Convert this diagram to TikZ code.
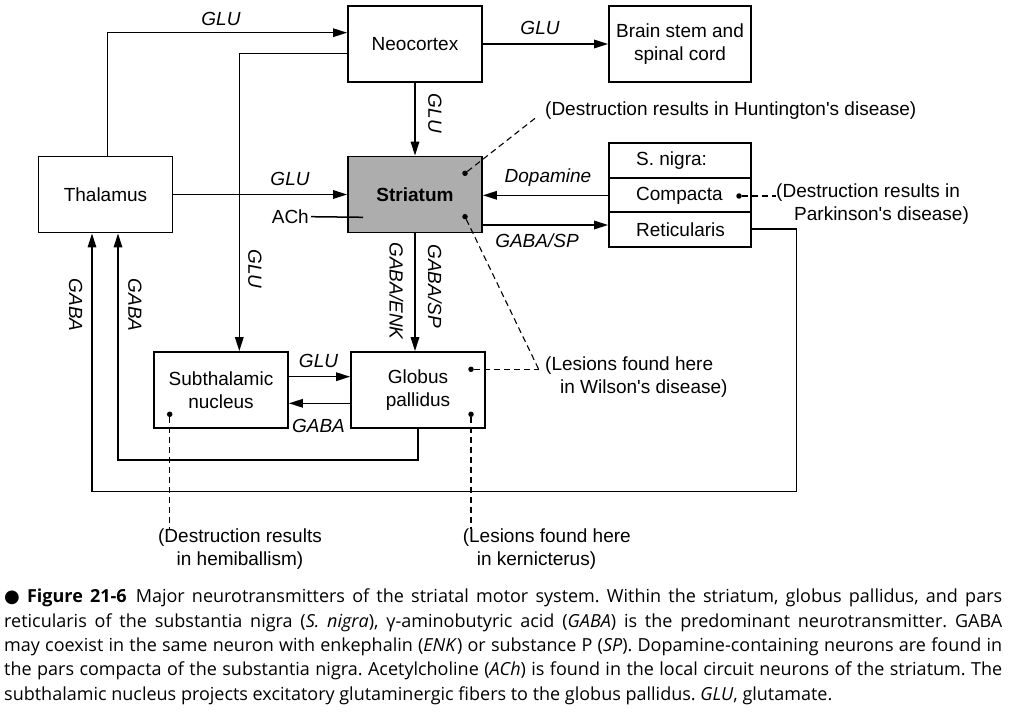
\documentclass[tikz,border=0pt]{standalone}
\usepackage{fontspec}
\setmainfont{Liberation Sans}
\newfontfamily\capfont{Open Sans}
\newfontfamily\symfont{DejaVu Sans}
\usetikzlibrary{arrows.meta,calc}
\tikzset{
  box/.style={draw, line width=1.8pt, inner sep=0pt, minimum width=134pt, minimum height=76pt, align=center},
  arr/.style={line width=1.5pt, -{Triangle[length=14pt,width=8.5pt]}},
  ln/.style={line width=1.5pt},
  lab/.style={font=\fontsize{19}{22}\selectfont\itshape, inner sep=1pt},
  txt/.style={font=\fontsize{19}{22.5}\selectfont, inner sep=0pt},
  dsh/.style={line width=1.1pt, dash pattern=on 6pt off 4pt},
  dotn/.style={circle, fill=black, inner sep=0pt, minimum size=5.5pt},
}
\begin{document}
\begin{tikzpicture}[x=1pt,y=-1pt]
\useasboundingbox (0,0) rectangle (1010,714);
\fill[white] (0,0) rectangle (1010,714);
\begin{scope}[font=\fontsize{19}{22.5}\selectfont]
% boxes
\node[box] (neo) at (415,44) {Neocortex};
\node[box] (thal) at (105.5,194.5) {Thalamus};
\node[box, fill=black!32] (str) at (415,194.5) {\bfseries Striatum};
\node[box, minimum width=142pt] (brain) at (680,44) {Brain stem and\\spinal cord};
\node[box, minimum width=142pt, minimum height=35pt] (sn1) at (680,160.8) {};
\node[box, minimum width=142pt, minimum height=34pt] (sn2) at (680,195.3) {};
\node[box, minimum width=142pt, minimum height=34.4pt] (sn3) at (680,229.5) {};
\node[txt, anchor=west] (sn1t) at (636,161) {S. nigra:};
\node[txt, anchor=west] (sn2t) at (636,195.5) {Compacta};
\node[txt, anchor=west] (sn3t) at (636,229.5) {Reticularis};
\node[box] (sub) at (221,390) {Subthalamic\\nucleus};
\node[box] (glob) at (418,390) {Globus\\pallidus};

% coordinates for bends
\coordinate (tn) at (107.7,32.7);
\coordinate (ns) at (239.3,53.3);
\coordinate (l1) at (118,460);
\coordinate (r0) at (796.5,229);
\coordinate (r1) at (796.5,491.7);
\coordinate (l2) at (92,491.7);
\coordinate (achend) at (363,217.3);
\coordinate (sp) at (0,225);

% connectors
\draw[arr] (thal.north -| tn) |- (neo.west |- tn);
\draw[arr] (neo.east) -- (brain.west);
\draw[arr] (neo.south) -- (str.north);
\draw[arr] (neo.west |- ns) -| (ns |- sub.north);
\draw[arr] (thal.east) -- (str.west);
\draw[arr] (sn2.west) -- (str.east |- sn2.west);
\draw[arr] (str.east |- sp) -- (sn3.west |- sp);
\draw[arr] (str.south) -- (str.south |- glob.north);
\draw[arr] ([yshift=13.3pt]sub.east) -- ([yshift=13.3pt]glob.west);
\draw[arr] ([yshift=-13.3pt]glob.west) -- ([yshift=-13.3pt]sub.east);
\draw[arr] (glob.south) |- (l1) -- (l1 |- thal.south);
\draw[arr] (sn3.east |- r0) -- (r0) -- (r1) -- (l2) -- (l2 |- thal.south);
\node[txt, anchor=east] (ach) at (309,216.7) {ACh};
\draw[ln] ([xshift=2pt]ach.east) -- (achend);

% connector labels
\node[lab] (g1) at (221,19) {GLU};
\node[lab] (g2) at (540,28) {GLU};
\node[lab, rotate=-90] (g3) at (435,113.5) {GLU};
\node[lab] (g4) at (290,179) {GLU};
\node[lab, rotate=-90] (g5) at (255,269) {GLU};
\node[lab] (dop) at (548,177.7) {Dopamine};
\node[lab] (gsp1) at (537,240.7) {GABA/SP};
\node[lab, rotate=-90] (genk) at (396.5,291) {GABA/ENK};
\node[lab, rotate=-90] (gsp2) at (435,286) {GABA/SP};
\node[lab] (g6) at (318.5,361) {GLU};
\node[lab] (gab1) at (318.5,425.7) {GABA};
\node[lab, rotate=-90] (gab2) at (75.6,305) {GABA};
\node[lab, rotate=-90] (gab3) at (135,305) {GABA};

% annotations
\node[dotn] (d1) at (465,173.3) {};
\node[dotn] (d2) at (465,216.7) {};
\node[dotn] (d3) at (739,196) {};
\node[dotn] (d4) at (471,369.3) {};
\node[dotn] (d5) at (169.7,414.3) {};
\node[dotn] (d6) at (471,414.3) {};
\node[txt, anchor=west] (hunt) at (545,111) {(Destruction results in Huntington\textquotesingle s disease)};
\node[txt, anchor=north west, align=left] (park) at (776,184) {(Destruction results in\\\hspace*{18pt}Parkinson\textquotesingle s disease)};
\node[txt, anchor=north west, align=left] (wil) at (545,357) {(Lesions found here\\\hspace*{15pt}in Wilson\textquotesingle s disease)};
\node[txt, anchor=north, align=center] (hemi) at (240,529) {(Destruction results\\in hemiballism)};
\node[txt, anchor=north west, align=left] (kern) at (462.6,529) {(Lesions found here\\\hspace*{14pt}in kernicterus)};
\coordinate (hj) at (538,116);
\coordinate (wj) at (538.7,369.3);
\draw[dsh] (d1) -- (hj);
\draw[dsh] (d3) -- (d3 -| park.west);
\draw[dsh] (d4) -- (wj);
\draw[dsh] (d2) -- (wj);
\draw[dsh] (d5) -- (d5 |- hemi.north);
\draw[dsh] (d6) -- (d6 |- kern.north);
\end{scope}

% caption
\node[anchor=north west, inner sep=0pt, text width=998pt, align=justify,
  font=\capfont\fontsize{18}{24.3}\selectfont\frenchspacing] (cap) at (4,589)
{{\symfont ●}~\textbf{Figure 21-6}\enspace Major neurotransmitters of the striatal motor system. Within the striatum, globus pallidus, and pars\linebreak
reticularis of the substantia nigra (\textit{S. nigra}), γ-aminobutyric acid (\textit{GABA}) is the predominant neurotransmitter. GABA\linebreak
may coexist in the same neuron with enkephalin (\textit{ENK}) or substance P (\textit{SP}). Dopamine-containing neurons are found in\linebreak
the pars compacta of the substantia nigra. Acetylcholine (\textit{ACh}) is found in the local circuit neurons of the striatum. The\linebreak
subthalamic nucleus projects excitatory glutaminergic fibers to the globus pallidus. \textit{GLU}, glutamate.};
\end{tikzpicture}
\end{document}
